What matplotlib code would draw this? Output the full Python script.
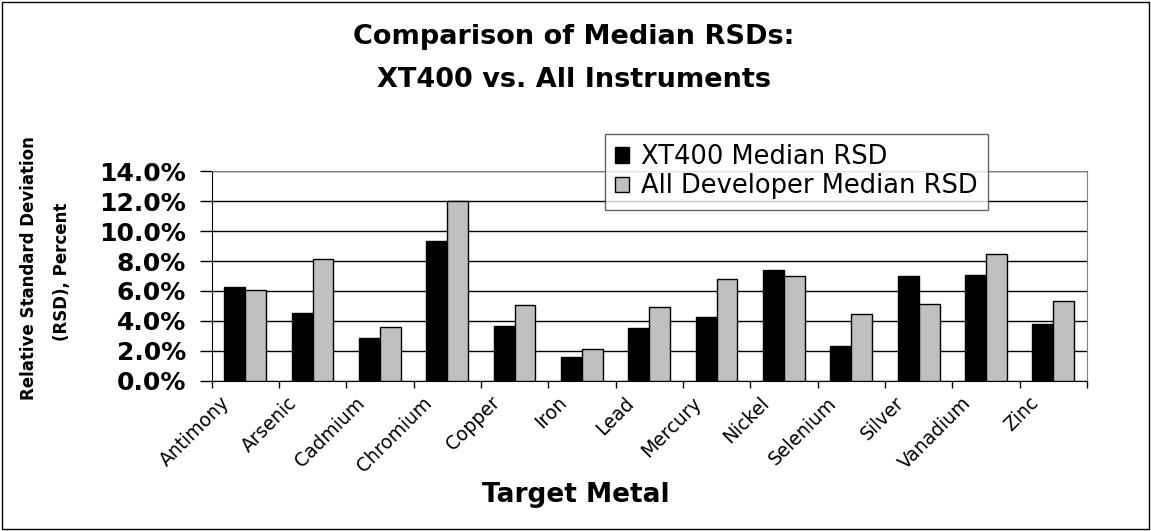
import matplotlib
matplotlib.use('Agg')
import matplotlib.pyplot as plt
import matplotlib.transforms as mtransforms
from matplotlib.patches import Rectangle
import numpy as np

metals = ['Antimony', 'Arsenic', 'Cadmium', 'Chromium', 'Copper', 'Iron', 'Lead',
          'Mercury', 'Nickel', 'Selenium', 'Silver', 'Vanadium', 'Zinc']
xt400 = [6.24, 4.50, 2.83, 9.34, 3.67, 1.57, 3.50, 4.25, 7.40, 2.33, 6.98, 7.07, 3.76]
all_dev = [6.06, 8.14, 3.58, 12.04, 5.06, 2.13, 4.90, 6.82, 6.98, 4.48, 5.14, 8.47, 5.30]
y_ticks = [0, 2, 4, 6, 8, 10, 12, 14]

plt.rcParams['font.family'] = ['DejaVu Sans']

W, H = 1151, 531
fig = plt.figure(figsize=(W / 100, H / 100), dpi=100)
# plot area in pixel coords from the reference
ax = fig.add_axes([211.5 / W, 1 - 380.5 / H, (1087 - 211.5) / W, (380.5 - 171.5) / H])

x = np.arange(len(metals))
w = 0.31
ax.bar(x - w / 2, xt400, w, color='black', edgecolor='black', linewidth=1,
       label='XT400 Median RSD', zorder=3)
ax.bar(x + w / 2, all_dev, w, color='#c0c0c0', edgecolor='black', linewidth=1,
       label='All Developer Median RSD', zorder=3)

ax.set_xlim(-0.5, len(metals) - 0.5)
ax.set_ylim(0, 14)
ax.set_yticks(y_ticks)
ax.set_yticklabels([f'{v:.1f}%' for v in y_ticks], fontsize=18, fontweight='bold')
ax.yaxis.grid(True, color='black', linewidth=1)
ax.set_axisbelow(True)
ax.tick_params(axis='y', length=8.4, width=1, direction='out', pad=10)

# category labels, rotated, with separators as minor ticks
ax.set_xticks(x)
ax.set_xticklabels(metals, rotation=45, ha='right', va='center', rotation_mode='anchor',
                   fontsize=13.5)
ax.tick_params(axis='x', length=0, pad=14)
shift = mtransforms.ScaledTranslation(-0.18, 0, fig.dpi_scale_trans)
for lab in ax.get_xticklabels():
    lab.set_transform(lab.get_transform() + shift)
ax.set_xticks(np.arange(len(metals) + 1) - 0.5, minor=True)
ax.tick_params(axis='x', which='minor', length=5, width=1, direction='out')

ax.spines['top'].set_color('#808080')
ax.spines['right'].set_color('#808080')

fig.text(576 / W, 1 - 502 / H, 'Target Metal', ha='center', va='baseline',
         fontsize=19, fontweight='bold')
fig.text(29 / W, 1 - 268 / H, 'Relative Standard Deviation', rotation=90,
         ha='center', va='center', fontsize=12, fontweight='bold')
fig.text(62 / W, 1 - 272 / H, '(RSD), Percent', rotation=90,
         ha='center', va='center', fontsize=12, fontweight='bold')

fig.text(574 / W, 1 - 44 / H, 'Comparison of Median RSDs:', ha='center', va='baseline',
         fontsize=19.5, fontweight='bold')
fig.text(574 / W, 1 - 87 / H, 'XT400 vs. All Instruments', ha='center', va='baseline',
         fontsize=19.5, fontweight='bold')

leg = ax.legend(loc='upper left', bbox_to_anchor=(605 / W, 1 - 134 / H),
                bbox_transform=fig.transFigure, borderaxespad=0,
                fontsize=18.5, frameon=True, fancybox=False, edgecolor='black',
                handlelength=0.55, handleheight=0.55, handletextpad=0.45,
                borderpad=0.4, labelspacing=0.12)
leg.get_frame().set_linewidth(1)
leg.get_frame().set_edgecolor('#404040')

fig.patches.append(Rectangle((2 / W, 2 / H), 1 - 4 / W, 1 - 4 / H, transform=fig.transFigure,
                             fill=False, edgecolor='black', linewidth=1))

fig.savefig('out.png', dpi=100)
